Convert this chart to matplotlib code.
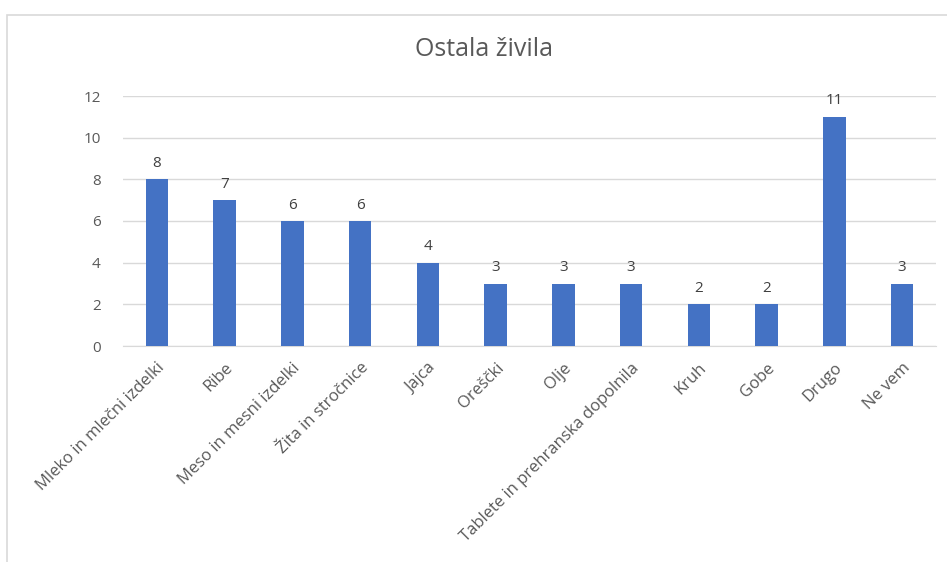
import matplotlib.pyplot as plt
from matplotlib.patches import Rectangle

categories = ["Mleko in mlečni izdelki", "Ribe", "Meso in mesni izdelki", "Žita in stročnice",
              "Jajca", "Oreščki", "Olje", "Tablete in prehranska dopolnila", "Kruh", "Gobe",
              "Drugo", "Ne vem"]
values = [8, 7, 6, 6, 4, 3, 3, 3, 2, 2, 11, 3]
yticks = [0, 2, 4, 6, 8, 10, 12]

plt.rcParams['font.family'] = ['Open Sans', 'DejaVu Sans']
text_col = "#595959"

fig = plt.figure(figsize=(9.47, 5.62), dpi=100)
# chart frame
fig.patches.append(Rectangle((7 / 947, -0.1), 1.1, 1 - 15 / 562 + 0.1, transform=fig.transFigure,
                             fill=False, edgecolor="#d9d9d9", linewidth=1.2))

ax = fig.add_axes([123 / 947, 1 - 346 / 562, (936 - 123) / 947, (346 - 96) / 562])
x = range(len(categories))
bars = ax.bar(x, values, width=0.33, color="#4472C4", zorder=3)
for xi, v in zip(x, values):
    ax.text(xi, v + 0.4, str(v), ha="center", va="bottom", fontsize=11, color="#404040")

ax.set_xlim(-0.5, len(categories) - 0.5)
ax.set_ylim(0, 12)
ax.set_yticks(yticks)
ax.set_yticklabels([str(t) for t in yticks], fontsize=11, color=text_col)
ax.yaxis.grid(True, color="#d9d9d9", linewidth=1, zorder=0)
ax.tick_params(axis="y", length=0, pad=16)
ax.tick_params(axis="x", length=0, pad=10)
ax.set_xticks(list(x))
ax.set_xticklabels(categories, rotation=45, ha="right", rotation_mode="anchor",
                   fontsize=12, color=text_col)
for s in ["top", "right", "left"]:
    ax.spines[s].set_visible(False)
ax.spines["bottom"].set_color("#d9d9d9")

fig.text(484 / 947, 1 - 50 / 562, "Ostala živila", ha="center", va="center", fontsize=18, color=text_col)

fig.savefig("out.png", dpi=100)
